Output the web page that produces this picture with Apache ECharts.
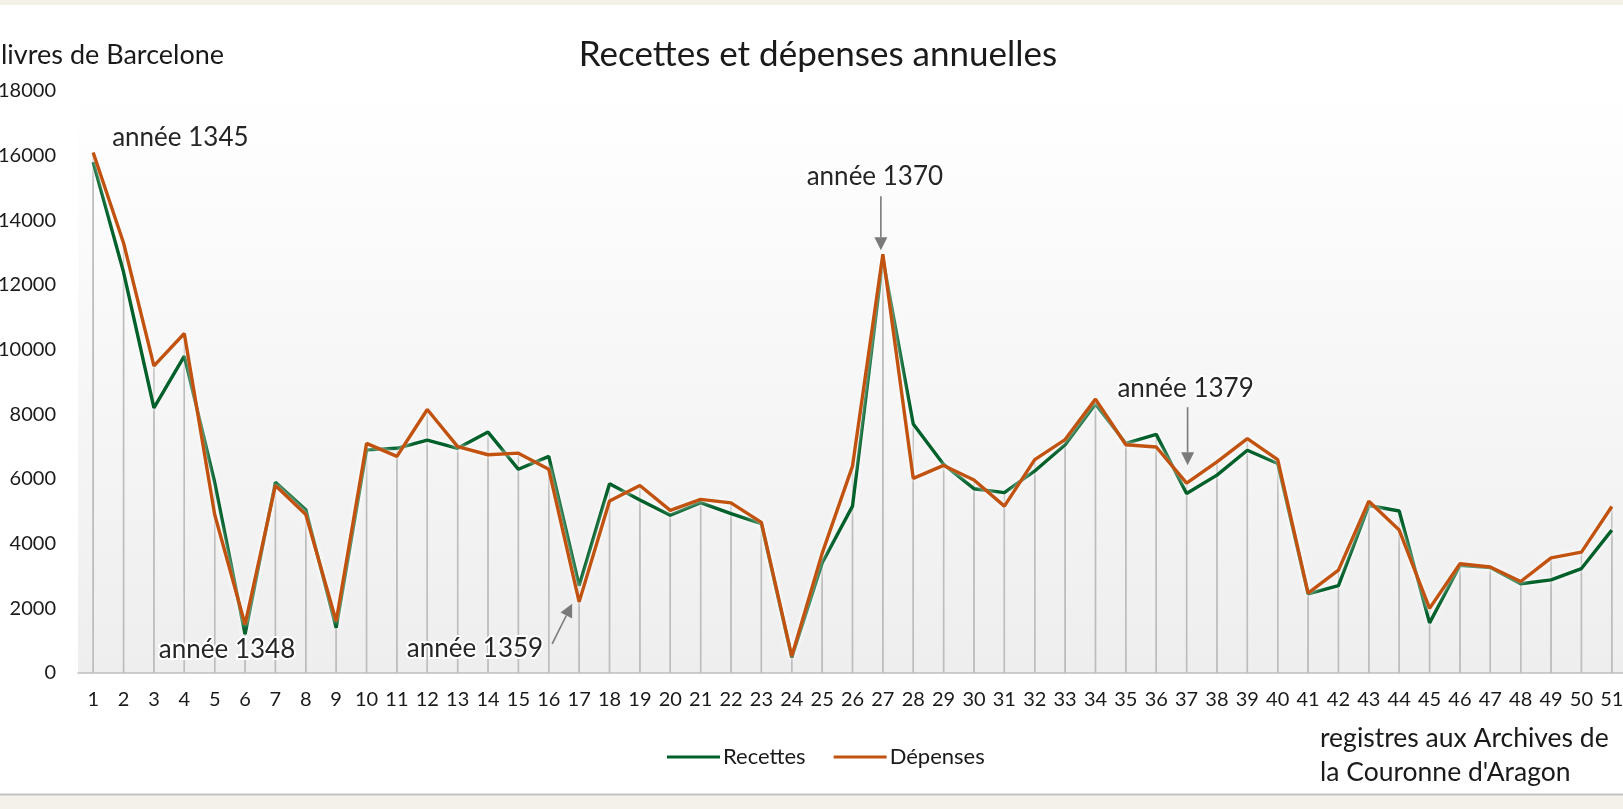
<!DOCTYPE html>
<html><head><meta charset="utf-8">
<script src="https://cdn.jsdelivr.net/npm/echarts@6/dist/echarts.min.js"></script>
<style>
html,body{margin:0;padding:0;background:#f4f1e9;}
#c{width:1623px;height:809px;}
</style></head>
<body><div id="c"></div>
<script>
const categories = Array.from({length:51},(_,i)=>String(i+1));
const recettes = [15800,12400,8200,9800,5900,1200,5900,5050,1400,6900,6950,7200,6950,7450,6300,6700,2700,5850,5350,4880,5270,4930,4620,480,3400,5160,12800,7700,6450,5700,5580,6250,7060,8320,7100,7380,5550,6120,6890,6480,2450,2700,5180,5010,1550,3330,3260,2760,2880,3230,4420];
const depenses = [16100,13300,9500,10500,4900,1500,5800,4900,1600,7100,6700,8150,7000,6750,6800,6300,2200,5320,5800,5030,5370,5260,4660,520,3700,6400,12950,6020,6420,5970,5160,6600,7220,8470,7060,6990,5870,6530,7250,6600,2470,3180,5310,4420,2000,3380,3280,2830,3560,3740,5150];
const yTicks = [0,2000,4000,6000,8000,10000,12000,14000,16000,18000];
const seriesNames = ['Recettes','Dépenses'];
const titleText = 'Recettes et dépenses annuelles';
const yAxisTitle = 'livres de Barcelone';
const xAxisTitle = ["registres aux Archives de","la Couronne d'Aragon"];
// annotations: [label, category index, value anchor]
const notes = [
  ['année 1345', 0, 16100],
  ['année 1348', 5, 1200],
  ['année 1359', 16, 2200],
  ['année 1370', 26, 12950],
  ['année 1379', 36, 5870]
];

const FONT = 'Lato';
const GREEN = '#00602a';
const ORANGE = '#c2520f';
const chart = echarts.init(document.getElementById('c'), null, {renderer:'canvas'});

const lineCommon = {
  type:'line', symbol:'none', smooth:false, z:5,
  lineStyle:{width:3.4, shadowColor:'rgba(255,255,255,0.95)', shadowBlur:5}
};
const dropCommon = {
  type:'bar', barWidth:1.4, barGap:'-100%', silent:true, z:1,
  itemStyle:{color:'#bdbdbd'}, legendHoverLink:false
};

chart.setOption({
  backgroundColor:'transparent',
  animation:false,
  textStyle:{fontFamily:FONT},
  legend:{data:seriesNames, left:662, top:741, itemWidth:53, itemHeight:3, itemGap:28,
    icon:'rect',
    textStyle:{fontFamily:FONT, fontSize:22, color:'#1a1a1a', padding:[0,0,0,-2]}},
  grid:{left:78, top:91, width:1549, bottom:136, show:true, borderWidth:0,
    outerBoundsMode:'none', containLabel:false,
    backgroundColor:new echarts.graphic.LinearGradient(0,0,0,1,[
      {offset:0,color:'#ffffff'},{offset:1,color:'#eeeeee'}])},
  xAxis:{type:'category', data:categories, boundaryGap:true,
    axisLine:{lineStyle:{color:'#bfbfbf', width:1.5}},
    axisTick:{show:false},
    axisLabel:{fontFamily:FONT, fontSize:20, color:'#1a1a1a', margin:17, interval:0}},
  yAxis:{type:'value', min:yTicks[0], max:yTicks[yTicks.length-1], interval:yTicks[1]-yTicks[0],
    splitLine:{show:false}, axisLine:{show:false}, axisTick:{show:false},
    axisLabel:{fontFamily:FONT, fontSize:20, color:'#1a1a1a', margin:22,
      formatter:function(v){return String(v);}}},
  series:[
    Object.assign({}, dropCommon, {name:'drop1', data:recettes}),
    Object.assign({}, dropCommon, {name:'drop2', data:depenses}),
    Object.assign({}, lineCommon, {name:seriesNames[0], data:recettes, color:GREEN,
      lineStyle:Object.assign({}, lineCommon.lineStyle, {color:GREEN})}),
    Object.assign({}, lineCommon, {name:seriesNames[1], data:depenses, color:ORANGE,
      lineStyle:Object.assign({}, lineCommon.lineStyle, {color:ORANGE})})
  ]
});

function px(idx, val){
  return chart.convertToPixel({gridIndex:0},[idx, val]);
}
const annStyle = {fontFamily:FONT, fontSize:26, fill:'#262626', stroke:'#ffffff', lineWidth:4};
function txt(s, x, y, align){
  return {type:'text', z:20, x:x, y:y,
    style:Object.assign({text:s, align:align||'center', verticalAlign:'middle'}, annStyle)};
}
function arrow(p0, p1){
  const dx=p1[0]-p0[0], dy=p1[1]-p0[1], L=Math.hypot(dx,dy), ux=dx/L, uy=dy/L;
  const hl=13, hw=6.5;
  const bx=p1[0]-ux*hl, by=p1[1]-uy*hl;
  return [
    {type:'line', z:20, shape:{x1:p0[0],y1:p0[1],x2:bx,y2:by}, style:{stroke:'#7a7a7a', lineWidth:1.6}},
    {type:'polygon', z:20, shape:{points:[[p1[0],p1[1]],[bx-uy*hw,by+ux*hw],[bx+uy*hw,by-ux*hw]]},
      style:{fill:'#7a7a7a'}}
  ];
}
const g = [];
// outer white card
g.push({type:'rect', z:-100, shape:{x:0,y:5,width:1623,height:789}, style:{fill:'#ffffff'}});
g.push({type:'line', z:-99, shape:{x1:0,y1:794.5,x2:1623,y2:794.5}, style:{stroke:'#c2c2c2', lineWidth:2}});
// title and axis titles
g.push({type:'text', z:20, x:818, y:55, style:{text:titleText, fontFamily:FONT, fontSize:35, fill:'#1a1a1a', align:'center', verticalAlign:'middle'}});
g.push({type:'text', z:20, x:1, y:55, style:{text:yAxisTitle, fontFamily:FONT, fontSize:27, fill:'#1a1a1a', align:'left', verticalAlign:'middle'}});
g.push({type:'text', z:20, x:1320, y:738, style:{text:xAxisTitle[0], fontFamily:FONT, fontSize:26.5, fill:'#1a1a1a', align:'left', verticalAlign:'middle'}});
g.push({type:'text', z:20, x:1320, y:772, style:{text:xAxisTitle[1], fontFamily:FONT, fontSize:26.5, fill:'#1a1a1a', align:'left', verticalAlign:'middle'}});
// annotations
let p;
p = px(notes[0][1], notes[0][2]); g.push(txt(notes[0][0], p[0]+19, p[1]-15, 'left'));
p = px(notes[1][1], 0); g.push(txt(notes[1][0], p[0]-18, p[1]-23, 'center'));
p = px(notes[2][1], notes[2][2]);
g.push(txt(notes[2][0], p[0]-36, px(0,0)[1]-24, 'right'));
g.push(...arrow([p[0]-27, p[1]+42],[p[0]-7, p[1]+2]));
p = px(notes[3][1], notes[3][2]);
g.push(txt(notes[3][0], p[0]-8, p[1]-78, 'center'));
g.push(...arrow([p[0]-2, p[1]-58],[p[0]-2, p[1]-4]));
p = px(notes[4][1], notes[4][2]);
g.push(txt(notes[4][0], p[0]-1, p[1]-95, 'center'));
g.push(...arrow([p[0]+1, p[1]-76],[p[0]+1, p[1]-18]));
chart.setOption({graphic:g});
</script></body></html>
